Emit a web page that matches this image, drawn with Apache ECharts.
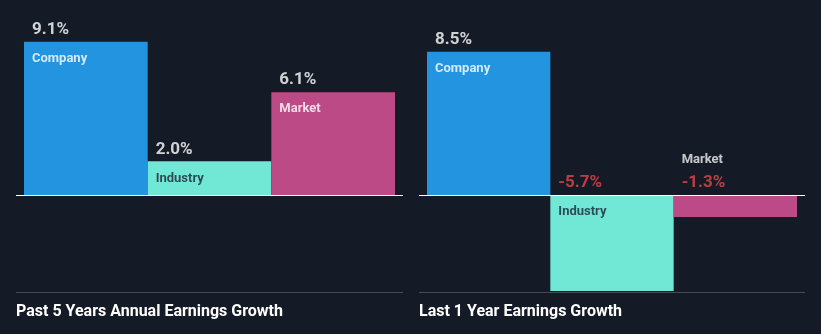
<!DOCTYPE html>
<html><head><meta charset="utf-8">
<script src="https://cdn.jsdelivr.net/npm/echarts@6/dist/echarts.min.js"></script>
<style>html,body{margin:0;padding:0;background:#151b26;}#c{width:821px;height:334px;}</style>
</head><body><div id="c"></div>
<script>
const categories = ['Company', 'Industry', 'Market'];
const past5Years = [9.1, 2.0, 6.1];
const last1Year = [8.5, -5.7, -1.3];
const panelTitles = ['Past 5 Years Annual Earnings Growth', 'Last 1 Year Earnings Growth'];
const barColors = ['#2394df', '#71e7d6', '#bb4a86'];
const nameColors = ['#ffffff', '#1c2532', '#ffffff'];

const FONT = 'Roboto';
const grids = [{ left: 24, width: 371 }, { left: 427, width: 370 }];
const panelLines = [[16, 403], [419, 805]];
const panels = [past5Years, last1Year];

const option = {
  backgroundColor: '#151b26',
  animation: false,
  title: panelTitles.map((t, i) => ({
    text: t, left: panelLines[i][0], top: 304, padding: 0,
    textStyle: { color: '#ffffff', fontFamily: FONT, fontWeight: 'bold', fontSize: 16, lineHeight: 16 }
  })),
  grid: grids.map(g => ({ left: g.left, width: g.width, top: 26.5, bottom: 37.9, containLabel: false })),
  xAxis: grids.map((g, i) => ({
    type: 'category', gridIndex: i, data: categories,
    axisLine: { show: false }, axisTick: { show: false }, axisLabel: { show: false }, splitLine: { show: false }
  })),
  yAxis: grids.map((g, i) => ({
    type: 'value', gridIndex: i, min: -6, max: 10, show: false, splitLine: { show: false }
  })),
  series: []
};

panels.forEach((vals, p) => {
  const half = grids[p].width / categories.length / 2;
  const dx = -half + 8;
  option.series.push({
    type: 'bar', xAxisIndex: p, yAxisIndex: p, barCategoryGap: 0, barGap: 0,
    data: vals.map((v, i) => ({ value: v, itemStyle: { color: barColors[i] } })),
    z: 2
  });
  // value labels
  option.series.push({
    type: 'scatter', xAxisIndex: p, yAxisIndex: p, symbolSize: 0, silent: true, z: 5,
    data: vals.map((v, i) => ({
      value: [categories[i], Math.max(v, 0)],
      label: {
        show: true, formatter: v.toFixed(1) + '%',
        position: [dx, -3.5], align: 'left', verticalAlign: 'bottom',
        color: v < 0 ? '#e8454a' : '#ffffff',
        fontFamily: FONT, fontWeight: 'bold', fontSize: 17, lineHeight: 17
      }
    }))
  });
  // name labels
  option.series.push({
    type: 'scatter', xAxisIndex: p, yAxisIndex: p, symbolSize: 0, silent: true, z: 5,
    data: vals.map((v, i) => {
      const small = v < 0 && Math.abs(v) < 2;
      return {
        value: [categories[i], Math.max(v, 0)],
        label: {
          show: true, formatter: categories[i],
          position: small ? [dx, -29] : [dx, 10.5], align: 'left',
          verticalAlign: small ? 'bottom' : 'top',
          color: small ? '#f2f2f2' : nameColors[i],
          fontFamily: FONT, fontWeight: 'bold', fontSize: 13, lineHeight: 13
        }
      };
    })
  });
});

const chart = echarts.init(document.getElementById('c'), null, { renderer: 'canvas' });
chart.setOption(option);

const graphics = [];
panels.forEach((vals, p) => {
  const y0 = chart.convertToPixel({ yAxisIndex: p }, 0);
  graphics.push({
    type: 'line', z: 10,
    shape: { x1: panelLines[p][0], y1: Math.round(y0) + 0.5, x2: panelLines[p][1], y2: Math.round(y0) + 0.5 },
    style: { stroke: '#ffffff', lineWidth: 1 }
  });
  graphics.push({
    type: 'line', z: 10,
    shape: { x1: panelLines[p][0], y1: 292.5, x2: panelLines[p][1], y2: 292.5 },
    style: { stroke: '#464b53', lineWidth: 1 }
  });
});
chart.setOption({ graphic: graphics });
</script>
</body></html>
